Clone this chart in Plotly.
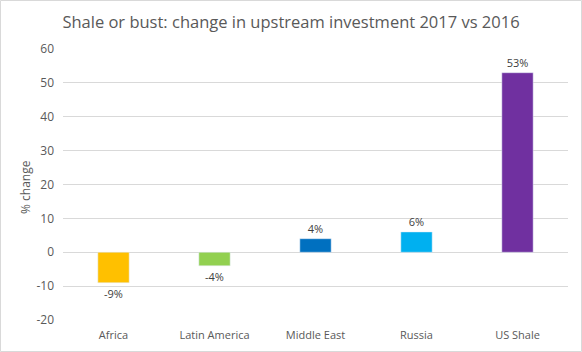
import plotly.graph_objects as go

categories = ["Africa", "Latin America", "Middle East", "Russia", "US Shale"]
values = [-9, -4, 4, 6, 53]
labels = ["-9%", "-4%", "4%", "6%", "53%"]
colors = ["#FFC000", "#92D050", "#0070C0", "#00B0F0", "#7030A0"]
y_ticks = [-20, -10, 0, 10, 20, 30, 40, 50, 60]
y_tick_labels = ["-20", "-10", "0", "10", "20", "30", "40", "50", "60"]

W, H = 582, 352
ml, mr, mt, mb = 63, 14, 49, 32
pw, ph = W - ml - mr, H - mt - mb

fig = go.Figure(go.Bar(
    x=categories, y=values, marker_color=colors, text=labels,
    textposition="outside", cliponaxis=False,
    textfont=dict(size=11, color="#404040", family="Open Sans"),
))

fig.update_layout(
    width=W, height=H, margin=dict(l=ml, r=mr, t=mt, b=mb),
    paper_bgcolor="white", plot_bgcolor="white", bargap=0.69,
    showlegend=False,
    font=dict(family="Open Sans", color="#595959"),
    title=dict(text="Shale or bust: change in upstream investment 2017 vs 2016",
               x=0.5, xref="container", xanchor="center", y=1 - 22 / H, yanchor="middle",
               font=dict(size=16.5, color="#595959", family="Open Sans")),
    yaxis=dict(range=[-20, 60], tickvals=y_ticks, ticktext=y_tick_labels,
               showgrid=True, gridcolor="#D9D9D9", automargin=False,
               zeroline=True, zerolinecolor="#D9D9D9", zerolinewidth=1,
               tickfont=dict(size=12, color="#595959"), ticks="", ticklen=0,
               ticklabelstandoff=8, fixedrange=True),
    xaxis=dict(tickfont=dict(size=11, color="#595959"), showline=False, ticks="",
               ticklabelstandoff=7, automargin=False),
    annotations=[dict(text="% change", xref="paper", yref="paper",
                      x=-(ml - 25) / pw, y=(352 - 187 - mb) / ph,
                      xanchor="center", yanchor="middle", textangle=-90,
                      showarrow=False, font=dict(size=12, color="#595959"))],
    shapes=[dict(type="rect", xref="paper", yref="paper",
                 x0=-(ml - 0.5) / pw, x1=1 + (mr - 0.5) / pw,
                 y0=-(mb - 0.5) / ph, y1=1 + (mt - 0.5) / ph,
                 line=dict(color="#D9D9D9", width=1))],
)

fig.write_html("out.html")
